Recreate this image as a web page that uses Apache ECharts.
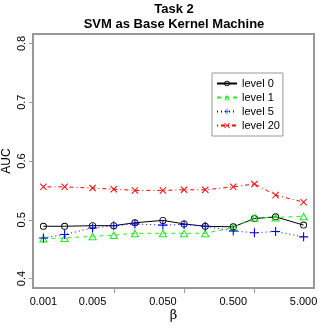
<!DOCTYPE html>
<html>
<head>
<meta charset="utf-8">
<script src="https://cdn.jsdelivr.net/npm/echarts@6/dist/echarts.min.js"></script>
<style>
  html, body { margin: 0; padding: 0; background: #fff; }
  #chart { width: 332px; height: 332px; }
</style>
</head>
<body>
<div id="chart"></div>
<script>
// beta values (log x axis)
const betas = [0.001, 0.002, 0.005, 0.01, 0.02, 0.05, 0.1, 0.2, 0.5, 1, 2, 5]
const level0 = [0.489, 0.489, 0.490, 0.490, 0.495, 0.499, 0.493, 0.489, 0.488, 0.502, 0.505, 0.491]
const level1 = [0.468, 0.469, 0.472, 0.474, 0.477, 0.477, 0.477, 0.477, 0.487, 0.504, 0.504, 0.506]
const level5 = [0.469, 0.475, 0.486, 0.490, 0.493, 0.491, 0.492, 0.489, 0.481, 0.478, 0.480, 0.471]
const level20 = [0.556, 0.556, 0.554, 0.552, 0.550, 0.550, 0.551, 0.551, 0.556, 0.561, 0.542, 0.530]
const xLabels = [0.001, 0.005, 0.05, 0.5, 5]
const xTicks = [0.01, 0.1, 1]
const yTicks = [0.4, 0.5, 0.6, 0.7, 0.8]

const font = 'Liberation Sans'
const frame = '#999'

// thin marker outlines as filled paths (empty* symbols force a 2px stroke)
const ringCircle = 'path://M5,0A5,5 0 1,1 5,10A5,5 0 1,1 5,0ZM5,1.3A3.7,3.7 0 1,0 5,8.7A3.7,3.7 0 1,0 5,1.3Z'
const ringTriangle = 'path://M5,0L10,9L0,9ZM5,2.4L2,7.8L8,7.8Z'
const plus = 'path://M0,4.4L10,4.4L10,5.6L0,5.6ZM4.4,0L5.6,0L5.6,10L4.4,10Z'
const cross = 'path://M0,1L1,0L10,9L9,10ZM9,0L10,1L1,10L0,9Z'

function pairs (ys) {
  return betas.map((b, i) => [b, ys[i]])
}

const chart = echarts.init(document.getElementById('chart'))
chart.setOption({
  animation: false,
  textStyle: { fontFamily: font },
  title: {
    text: 'Task 2\nSVM as Base Kernel Machine',
    left: 174,
    top: 2,
    padding: 0,
    textAlign: 'center',
    textStyle: { fontSize: 13, fontWeight: 'bold', color: '#000', lineHeight: 15, fontFamily: font }
  },
  grid: {
    left: 33,
    right: 18,
    top: 34,
    bottom: 44,
    show: true,
    borderColor: frame,
    borderWidth: 2,
    outerBoundsMode: 'none',
    containLabel: false
  },
  legend: {
    orient: 'vertical',
    left: 212,
    top: 73,
    padding: [5, 3, 5, 4],
    itemGap: 3,
    itemWidth: 20,
    itemHeight: 7,
    borderColor: frame,
    borderWidth: 1,
    textStyle: { fontSize: 11, color: '#000', fontFamily: font },
    data: ['level 0', 'level 1', 'level 5', 'level 20']
  },
  xAxis: {
    type: 'log',
    logBase: 10,
    min: 0.000711,
    max: 7.03,
    name: 'β',
    nameLocation: 'middle',
    nameGap: 21,
    nameMoveOverlap: false,
    nameTextStyle: { fontSize: 13, color: '#000', fontFamily: 'DejaVu Serif' },
    axisLine: { show: false },
    splitLine: { show: false },
    axisTick: { show: true, length: 5, customValues: xTicks, lineStyle: { color: frame, width: 1 } },
    axisLabel: {
      customValues: xLabels,
      margin: 8,
      fontSize: 11,
      color: '#000',
      formatter: (v) => Number(v).toFixed(3)
    }
  },
  yAxis: {
    type: 'value',
    min: 0.384,
    max: 0.816,
    name: 'AUC',
    nameLocation: 'middle',
    nameGap: 20,
    nameRotate: 90,
    nameMoveOverlap: false,
    nameTextStyle: { fontSize: 12, color: '#000', fontFamily: font },
    axisLine: { show: false },
    splitLine: { show: false },
    axisTick: { show: true, length: 4, customValues: yTicks, lineStyle: { color: frame, width: 1 } },
    axisLabel: {
      customValues: yTicks,
      rotate: 90,
      margin: 6,
      fontSize: 11,
      color: '#000',
      formatter: (v) => String(Math.round(v * 10) / 10)
    }
  },
  series: [
    {
      name: 'level 0',
      type: 'line',
      data: pairs(level0),
      symbol: ringCircle,
      symbolSize: 7,
      lineStyle: { color: '#000', width: 1, type: 'solid' },
      itemStyle: { color: '#000', borderWidth: 0 }
    },
    {
      name: 'level 1',
      type: 'line',
      data: pairs(level1),
      symbol: ringTriangle,
      symbolSize: [9, 8],
      lineStyle: { color: '#22ee22', width: 1, type: [4, 4] },
      itemStyle: { color: '#22ee22', borderWidth: 0 }
    },
    {
      name: 'level 5',
      type: 'line',
      data: pairs(level5),
      symbol: plus,
      symbolSize: 9,
      lineStyle: { color: '#0000ff', width: 1, type: [1, 3] },
      itemStyle: { color: '#0000ff', borderWidth: 0 }
    },
    {
      name: 'level 20',
      type: 'line',
      data: pairs(level20),
      symbol: cross,
      symbolSize: 7,
      lineStyle: { color: '#ff0000', width: 1, type: [1, 3, 4, 3] },
      itemStyle: { color: '#ff0000', borderWidth: 0 }
    }
  ]
})
</script>
</body>
</html>
